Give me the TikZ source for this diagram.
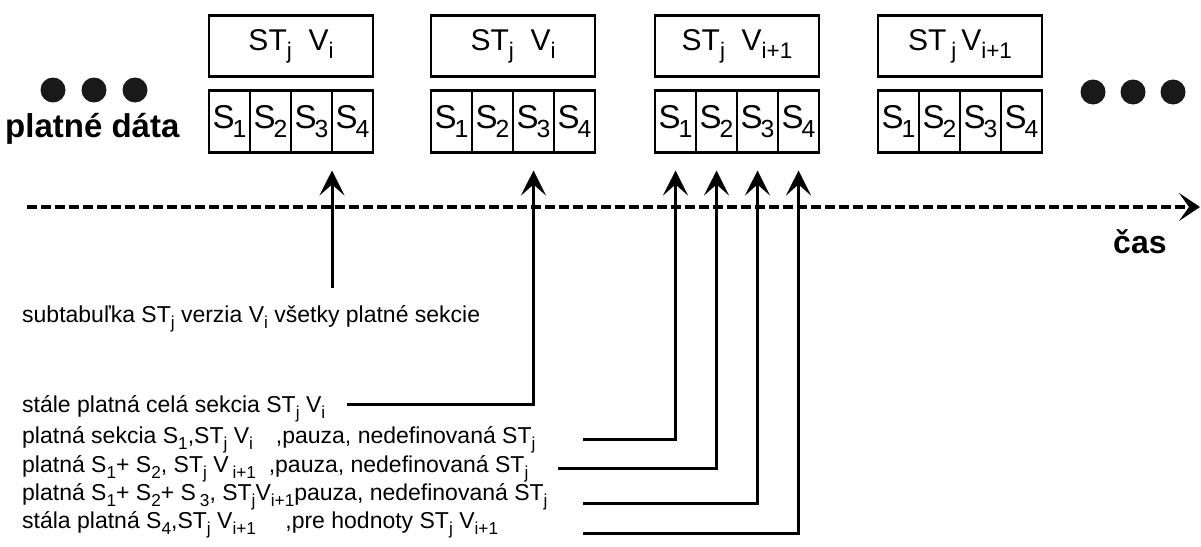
\documentclass[tikz,border=0pt]{standalone}
\usepackage{fontspec}
\setmainfont{Liberation Sans}
\usepackage{graphicx}
\usepackage{tikz}
\usetikzlibrary{arrows.meta, positioning}
\newcommand{\idx}[1]{\raisebox{-0.5ex}{\scalebox{0.75}{#1}}}

\begin{document}
\begin{tikzpicture}[x=1pt, y=-1pt, >={Stealth[length=25pt, width=25pt, inset=11pt]},
  verbox/.style={draw, line width=2.8pt, minimum width=164pt, minimum height=61pt, inner sep=0pt, outer sep=0pt, font=\fontsize{30}{34}\selectfont},
  cell/.style={draw, line width=2.8pt, minimum width=41pt, minimum height=62pt, inner sep=0pt, outer sep=0pt, font=\fontsize{33}{38}\selectfont},
  note/.style={anchor=base west, inner sep=0pt, font=\fontsize{23}{27}\selectfont},
  dot/.style={circle, fill=black!90, minimum size=25pt, inner sep=0pt},
  link/.style={line width=3pt},
  pointer/.style={link, ->, shorten >=18pt}]
\useasboundingbox (0,0) rectangle (1201,546);
% dots and label on the left
\node[dot] (l1) at (53,90) {};
\node[dot] (l2) at (94,90) {};
\node[dot] (l3) at (135,90) {};
\node[anchor=base west, inner sep=0pt, font=\fontsize{33}{38}\selectfont\bfseries] (valid) at (5,137) {platné dáta};
% dots on the right
\node[dot] (r1) at (1093,92) {};
\node[dot] (r2) at (1133,92) {};
\node[dot] (r3) at (1173,92) {};
% block 1
\node[verbox] (v1) at (291,46) {ST\idx{j}\ \ V\idx{i}};
\node[cell, anchor=north west] (c11) at ([yshift=-14pt]v1.south west) {S\kern-2pt\idx{1}};
\node[cell, right=0pt of c11] (c12) {S\kern-2pt\idx{2}};
\node[cell, right=0pt of c12] (c13) {S\kern-2pt\idx{3}};
\node[cell, right=0pt of c13] (c14) {S\kern-2pt\idx{4}};
% block 2
\node[verbox] (v2) at (513,46) {ST\idx{j}\ \ V\idx{i}};
\node[cell, anchor=north west] (c21) at ([yshift=-14pt]v2.south west) {S\kern-2pt\idx{1}};
\node[cell, right=0pt of c21] (c22) {S\kern-2pt\idx{2}};
\node[cell, right=0pt of c22] (c23) {S\kern-2pt\idx{3}};
\node[cell, right=0pt of c23] (c24) {S\kern-2pt\idx{4}};
% block 3
\node[verbox] (v3) at (737,46) {ST\idx{j}\ \ V\idx{i+1}};
\node[cell, anchor=north west] (c31) at ([yshift=-14pt]v3.south west) {S\kern-2pt\idx{1}};
\node[cell, right=0pt of c31] (c32) {S\kern-2pt\idx{2}};
\node[cell, right=0pt of c32] (c33) {S\kern-2pt\idx{3}};
\node[cell, right=0pt of c33] (c34) {S\kern-2pt\idx{4}};
% block 4
\node[verbox] (v4) at (960,46) {ST\,\idx{j}\,V\idx{i+1}};
\node[cell, anchor=north west] (c41) at ([yshift=-14pt]v4.south west) {S\kern-2pt\idx{1}};
\node[cell, right=0pt of c41] (c42) {S\kern-2pt\idx{2}};
\node[cell, right=0pt of c42] (c43) {S\kern-2pt\idx{3}};
\node[cell, right=0pt of c43] (c44) {S\kern-2pt\idx{4}};
% time axis
\coordinate (t0) at (27,207);
\coordinate (t1) at (1200,207);
\draw[line width=4pt, dash pattern=on 10pt off 4pt, -{Stealth[length=21pt, width=28pt, inset=10pt]}] (t0) -- (t1);
\node[anchor=base west, inner sep=0pt, font=\fontsize{32}{36}\selectfont\bfseries] (time) at (1113,253) {čas};
% notes
\node[note] (n0) at (22,322) {subtabuľka ST\idx{j} verzia V\idx{i} všetky platné sekcie};
\node[note] (n1) at (22,412) {stále platná celá sekcia ST\idx{j} V\idx{i}};
\node[note] (n2) at (22,443) {platná sekcia S\idx{1},ST\idx{j} V\idx{i}\quad,pauza, nedefinovaná ST\idx{j}};
\node[note] (n3) at (22,472) {platná S\idx{1}+ S\idx{2}, ST\idx{j} V\,\idx{i+1}\ \ ,pauza, nedefinovaná ST\idx{j}};
\node[note] (n4) at (22,500) {platná S\idx{1}+ S\idx{2}+ S\,\idx{3}, ST\idx{j}V\idx{i+1}pauza, nedefinovaná ST\idx{j}};
\node[note] (n5) at (22,528) {stála platná S\idx{4},ST\idx{j} V\idx{i+1}\quad\ ,pre hodnoty ST\idx{j} V\idx{i+1}};
% line starts
\coordinate (e0) at (332,288);
\coordinate (e1) at (347,404);
\coordinate (e2) at (583,439);
\coordinate (e3) at (558,468);
\coordinate (e4) at (583,503);
\coordinate (e5) at (583,533);
% pointers
\draw[pointer] (e0) -- (c14.south west);
\draw[pointer] (e1) -| (c23.south);
\draw[pointer] (e2) -| (c31.south);
\draw[pointer] (e3) -| (c32.south);
\draw[pointer] (e4) -| (c33.south);
\draw[pointer] (e5) -| (c34.south);
\end{tikzpicture}
\end{document}
